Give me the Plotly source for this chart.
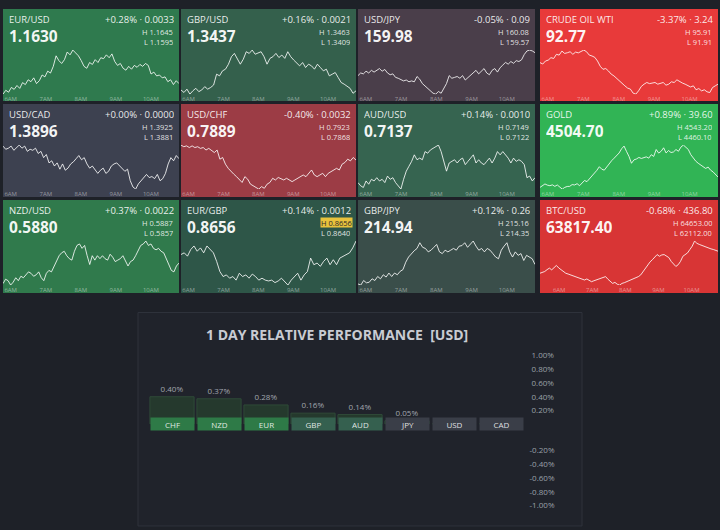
import plotly.graph_objects as go

# ---------------- DATA ----------------
pairs = ["EUR/USD", "GBP/USD", "USD/JPY", "CRUDE OIL WTI",
         "USD/CAD", "USD/CHF", "AUD/USD", "GOLD",
         "NZD/USD", "EUR/GBP", "GBP/JPY", "BTC/USD"]
last_px = ["1.1630", "1.3437", "159.98", "92.77",
           "1.3896", "0.7889", "0.7137", "4504.70",
           "0.5880", "0.8656", "214.94", "63817.40"]
pct_chg = ["+0.28%", "+0.16%", "-0.05%", "-3.37%",
           "+0.00%", "-0.40%", "+0.14%", "+0.89%",
           "+0.37%", "+0.14%", "+0.12%", "-0.68%"]
abs_chg = ["0.0033", "0.0021", "0.09", "3.24",
           "0.0000", "0.0032", "0.0010", "39.60",
           "0.0022", "0.0012", "0.26", "436.80"]
highs = ["1.1645", "1.3463", "160.08", "95.91",
         "1.3925", "0.7923", "0.7149", "4543.20",
         "0.5887", "0.8656", "215.16", "64653.00"]
lows = ["1.1595", "1.3409", "159.57", "91.91",
        "1.3881", "0.7868", "0.7122", "4460.10",
        "0.5857", "0.8640", "214.35", "62112.00"]
high_flag = [False, False, False, False, False, False,
             False, False, False, True, False, False]

eurusd = [1.1597, 1.1601, 1.1599, 1.1604, 1.1602, 1.1606, 1.1603, 1.1609, 1.1607, 1.1612, 1.1610, 1.1614,
          1.1608, 1.1611, 1.1617, 1.1615, 1.1621, 1.1619, 1.1626, 1.1637, 1.1632, 1.1629, 1.1633, 1.1641,
          1.1638, 1.1643, 1.1640, 1.1637, 1.1632, 1.1626, 1.1624, 1.1630, 1.1628, 1.1633, 1.1630, 1.1635,
          1.1634, 1.1638, 1.1635, 1.1639, 1.1631, 1.1627, 1.1629, 1.1624, 1.1622, 1.1626, 1.1623, 1.1627,
          1.1625, 1.1628, 1.1626, 1.1629, 1.1627, 1.1618, 1.1620, 1.1616, 1.1617, 1.1614, 1.1615, 1.1610,
          1.1612, 1.1607, 1.1611, 1.1608]
gbpusd = [1.3415, 1.3412, 1.3416, 1.3410, 1.3414, 1.3417, 1.3413, 1.3415, 1.3419, 1.3416, 1.3418, 1.3421,
          1.3434, 1.3432, 1.3438, 1.3440, 1.3446, 1.3455, 1.3459, 1.3453, 1.3446, 1.3452, 1.3461, 1.3459,
          1.3463, 1.3458, 1.3460, 1.3461, 1.3455, 1.3446, 1.3453, 1.3455, 1.3459, 1.3454, 1.3457, 1.3453,
          1.3461, 1.3455, 1.3451, 1.3447, 1.3444, 1.3448, 1.3442, 1.3446, 1.3444, 1.3440, 1.3446, 1.3442,
          1.3438, 1.3440, 1.3432, 1.3434, 1.3436, 1.3430, 1.3424, 1.3422, 1.3419, 1.3417, 1.3411, 1.3414]
usdjpy = [159.78, 159.81, 159.80, 159.83, 159.81, 159.84, 159.82, 159.84, 159.86, 159.83, 159.85, 159.81,
          159.79, 159.80, 159.76, 159.75, 159.73, 159.72, 159.73, 159.71, 159.72, 159.71, 159.77, 159.74,
          159.69, 159.66, 159.63, 159.61, 159.58, 159.57, 159.60, 159.58, 159.63, 159.69, 159.78, 159.75,
          159.76, 159.77, 159.75, 159.78, 159.73, 159.76, 159.79, 159.82, 159.84, 159.80, 159.83, 159.86,
          159.81, 159.79, 159.84, 159.86, 159.82, 159.87, 159.90, 159.93, 159.91, 159.94, 159.92, 159.95,
          159.94, 159.96, 160.02, 160.06, 160.07, 160.06, 160.04]
crude = [94.73, 94.60, 94.87, 94.95, 95.17, 95.10, 95.47, 95.40, 95.76, 95.55, 95.61, 95.70, 95.47, 95.67,
         95.60, 95.76, 95.85, 95.70, 95.40, 95.32, 95.20, 94.87, 94.40, 94.13, 94.20, 93.98, 93.70, 93.54,
         93.30, 93.10, 92.90, 92.65, 92.45, 92.36, 92.00, 91.91, 92.21, 92.60, 92.80, 92.95, 92.85, 92.89,
         92.95, 92.80, 92.89, 92.95, 92.71, 92.80, 93.01, 92.95, 93.19, 93.01, 92.90, 92.80, 92.71, 92.55,
         92.65, 92.30, 92.41, 92.20, 92.30, 92.12, 92.05, 92.50, 92.65, 92.80]
usdcad = [1.3922, 1.3919, 1.3920, 1.3922, 1.3918, 1.3921, 1.3923, 1.3920, 1.3922, 1.3917, 1.3919, 1.3918,
          1.3920, 1.3915, 1.3917, 1.3911, 1.3914, 1.3906, 1.3908, 1.3903, 1.3906, 1.3900, 1.3905, 1.3899,
          1.3901, 1.3905, 1.3907, 1.3910, 1.3913, 1.3909, 1.3911, 1.3905, 1.3901, 1.3903, 1.3899, 1.3896,
          1.3899, 1.3901, 1.3896, 1.3898, 1.3903, 1.3905, 1.3906, 1.3903, 1.3900, 1.3898, 1.3900, 1.3889,
          1.3883, 1.3881, 1.3886, 1.3889, 1.3891, 1.3895, 1.3892, 1.3893, 1.3891, 1.3895, 1.3889, 1.3891,
          1.3896, 1.3905, 1.3911, 1.3908, 1.3913, 1.3910]
usdchf = [0.7921, 0.7919, 0.7920, 0.7918, 0.7920, 0.7918, 0.7919, 0.7917, 0.7918, 0.7915, 0.7917, 0.7915,
          0.7912, 0.7915, 0.7904, 0.7906, 0.7898, 0.7893, 0.7889, 0.7886, 0.7883, 0.7879, 0.7876, 0.7883,
          0.7880, 0.7874, 0.7872, 0.7870, 0.7868, 0.7871, 0.7869, 0.7874, 0.7876, 0.7881, 0.7879, 0.7882,
          0.7880, 0.7879, 0.7881, 0.7879, 0.7877, 0.7879, 0.7881, 0.7883, 0.7885, 0.7883, 0.7887, 0.7891,
          0.7885, 0.7883, 0.7885, 0.7887, 0.7883, 0.7887, 0.7889, 0.7891, 0.7893, 0.7891, 0.7898, 0.7900,
          0.7904, 0.7902, 0.7906, 0.7903]
audusd = [0.7126, 0.7124, 0.7123, 0.7127, 0.7125, 0.7128, 0.7127, 0.7129, 0.7127, 0.7128, 0.7126, 0.7130,
          0.7128, 0.7129, 0.7126, 0.7124, 0.7122, 0.7128, 0.7133, 0.7136, 0.7139, 0.7143, 0.7140, 0.7141,
          0.7140, 0.7145, 0.7144, 0.7146, 0.7147, 0.7148, 0.7149, 0.7145, 0.7138, 0.7133, 0.7138, 0.7139,
          0.7140, 0.7138, 0.7140, 0.7141, 0.7137, 0.7139, 0.7141, 0.7143, 0.7138, 0.7140, 0.7138, 0.7137,
          0.7139, 0.7141, 0.7138, 0.7141, 0.7145, 0.7143, 0.7145, 0.7143, 0.7141, 0.7138, 0.7141, 0.7139,
          0.7140, 0.7139, 0.7137, 0.7129, 0.7130, 0.7127, 0.7129]
gold = [4463.3, 4466.0, 4469.7, 4467.5, 4466.5, 4468.0, 4465.2, 4467.8, 4464.0, 4460.1, 4463.3, 4465.0,
        4465.2, 4468.5, 4467.8, 4470.2, 4466.5, 4472.0, 4476.1, 4474.0, 4479.3, 4484.0, 4488.9, 4495.0,
        4501.7, 4497.0, 4495.3, 4502.0, 4508.1, 4513.0, 4517.6, 4522.0, 4527.2, 4535.0, 4540.0, 4530.0,
        4520.8, 4508.1, 4514.4, 4516.0, 4518.9, 4517.0, 4518.9, 4520.0, 4517.6, 4524.0, 4520.8, 4533.6,
        4527.0, 4530.4, 4536.8, 4527.2, 4531.7, 4528.0, 4529.1, 4533.6, 4530.4, 4538.1, 4541.9, 4536.8,
        4533.6, 4524.0, 4517.6, 4512.0, 4508.1, 4504.9, 4501.7, 4498.5, 4501.0, 4495.3, 4492.1, 4488.0,
        4482.5]
nzdusd = [0.5858, 0.5861, 0.5860, 0.5857, 0.5859, 0.5862, 0.5860, 0.5863, 0.5862, 0.5864, 0.5866, 0.5865,
          0.5863, 0.5864, 0.5866, 0.5862, 0.5860, 0.5865, 0.5867, 0.5866, 0.5870, 0.5874, 0.5877, 0.5879,
          0.5880, 0.5877, 0.5875, 0.5874, 0.5880, 0.5884, 0.5885, 0.5882, 0.5884, 0.5877, 0.5871, 0.5877,
          0.5874, 0.5877, 0.5875, 0.5877, 0.5875, 0.5874, 0.5878, 0.5876, 0.5873, 0.5874, 0.5875, 0.5877,
          0.5874, 0.5870, 0.5873, 0.5874, 0.5877, 0.5880, 0.5884, 0.5885, 0.5887, 0.5884, 0.5885, 0.5882,
          0.5881, 0.5882, 0.5880, 0.5879, 0.5875, 0.5871, 0.5867, 0.5866, 0.5870, 0.5872]
eurgbp = [0.86511, 0.86517, 0.86505, 0.86529, 0.86542, 0.86523, 0.86535, 0.86517, 0.86542, 0.86529,
          0.86517, 0.86486, 0.86449, 0.86431, 0.86437, 0.86425, 0.86431, 0.86418, 0.86443, 0.86431,
          0.86437, 0.86425, 0.86440, 0.86431, 0.86418, 0.86425, 0.86418, 0.86415, 0.86418, 0.86409,
          0.86415, 0.86425, 0.86412, 0.86400, 0.86418, 0.86431, 0.86443, 0.86418, 0.86437, 0.86449,
          0.86498, 0.86474, 0.86480, 0.86468, 0.86486, 0.86498, 0.86474, 0.86492, 0.86474, 0.86498,
          0.86505, 0.86511, 0.86517, 0.86535, 0.86560]
gbpjpy = [214.38, 214.36, 214.44, 214.40, 214.41, 214.47, 214.44, 214.51, 214.47, 214.54, 214.50, 214.57,
          214.51, 214.57, 214.54, 214.60, 214.63, 214.76, 214.85, 214.91, 214.96, 215.00, 215.10, 215.02,
          215.00, 214.94, 214.97, 215.02, 215.07, 214.94, 214.91, 214.97, 214.94, 214.97, 215.00, 214.97,
          215.04, 215.05, 215.10, 215.02, 215.07, 215.13, 215.04, 214.97, 215.00, 214.94, 215.00, 214.97,
          214.91, 214.85, 214.82, 214.97, 215.04, 215.10, 214.94, 214.85, 214.94, 214.88, 214.91, 214.79,
          214.88, 214.85, 214.82, 214.72]
btcusd = [62796, 62850, 62894, 63000, 63089, 62991, 63120, 63245, 63100, 62991, 62900, 62796, 62750, 62698,
          62640, 62601, 62550, 62503, 62450, 62405, 62464, 62380, 62307, 62360, 62405, 62450, 62503, 62550,
          62601, 62450, 62307, 62209, 62268, 62160, 62112, 62209, 62250, 62307, 62360, 62405, 62450, 62503,
          62600, 62698, 62900, 63089, 63285, 63450, 63578, 63700, 63871, 63773, 63850, 63871, 63773, 63700,
          63480, 63350, 63187, 63285, 63480, 63773, 63871, 63969, 64164, 64360, 64653, 64520, 64457, 64400,
          64360, 64301, 64262, 64200, 64164, 64106, 64067]
series = [eurusd, gbpusd, usdjpy, crude, usdcad, usdchf, audusd, gold, nzdusd, eurgbp, gbpjpy, btcusd]

# session (hours of day) covered by each sparkline
session_start = [5.78] * 11 + [5.42]
session_end = [10.80] * 12
hour_ticks = [6, 7, 8, 9, 10]
hour_labels = ["6AM", "7AM", "8AM", "9AM", "10AM"]

currencies = ["CHF", "NZD", "EUR", "GBP", "AUD", "JPY", "USD", "CAD"]
rel_perf = [0.40, 0.37, 0.28, 0.16, 0.14, 0.05, 0.00, 0.00]
rel_labels = ["0.40%", "0.37%", "0.28%", "0.16%", "0.14%", "0.05%", "", ""]
pos_ticks = [0.2, 0.4, 0.6, 0.8, 1.0]
pos_tick_labels = ["0.20%", "0.40%", "0.60%", "0.80%", "1.00%"]
neg_ticks = [-0.2, -0.4, -0.6, -0.8, -1.0]
neg_tick_labels = ["-0.20%", "-0.40%", "-0.60%", "-0.80%", "-1.00%"]

# ---------------- STYLE ----------------
tile_colors = ["#2f7a4e", "#34604c", "#4a3e4a", "#e83a3a",
               "#3d4150", "#9c3c45", "#366450", "#31b455",
               "#307a4c", "#2e5648", "#3a4e4a", "#d83535"]
BG = "#1e2128"
FONT = "Open Sans"
W, H = 720, 530


def px(x):
    return x / W


def py(y):
    return 1 - y / H


col_x = [(3, 179), (181, 356), (358, 535), (540, 718)]
row_y = [(3, 97), (100, 195), (198, 293)]

fig = go.Figure()
shapes = []
annotations = []
layout_axes = {}

for i, name in enumerate(pairs):
    r, c = divmod(i, 4)
    x0, x1 = col_x[c]
    y0, y1 = row_y[r]
    shapes.append(dict(type="rect", xref="paper", yref="paper", layer="below",
                       x0=px(x0), x1=px(x1), y0=py(y1), y1=py(y0),
                       fillcolor=tile_colors[i], line=dict(width=0)))
    k = i + 1
    xa = "x" if k == 1 else f"x{k}"
    ya = "y" if k == 1 else f"y{k}"
    vals = series[i]
    n = len(vals)
    t0, t1 = session_start[i], session_end[i]
    times = [t0 + (t1 - t0) * j / (n - 1) for j in range(n)]
    fig.add_trace(go.Scatter(x=times, y=vals, mode="lines", xaxis=xa, yaxis=ya,
                             line=dict(color="rgba(255,255,255,0.82)", width=1),
                             hoverinfo="skip", showlegend=False))
    lo, hi = min(vals), max(vals)
    layout_axes["xaxis" if k == 1 else f"xaxis{k}"] = dict(
        domain=[px(x0), px(x1)], anchor=ya, range=[t0, t1],
        tickvals=hour_ticks, ticktext=hour_labels, ticks="", ticklen=0,
        showgrid=False, zeroline=False, showline=False, fixedrange=True,
        tickfont=dict(size=6, color="rgba(255,255,255,0.45)", family=FONT))
    layout_axes["yaxis" if k == 1 else f"yaxis{k}"] = dict(
        domain=[py(y0 + 87), py(y0 + 42)], anchor=xa, range=[lo, hi],
        visible=False, fixedrange=True)

    tx = dict(xref="paper", yref="paper", showarrow=False, yanchor="middle")
    annotations.append(dict(tx, x=px(x0 + 4), y=py(y0 + 11), xanchor="left", text=name, height=11,
                            font=dict(size=9.5, color="rgba(255,255,255,0.9)", family=FONT)))
    annotations.append(dict(tx, x=px(x0 + 4), y=py(y0 + 27), xanchor="left", text=f"<b>{last_px[i]}</b>",
                            height=15,
                            font=dict(size=15.5, color="rgba(255,255,255,0.95)", family=FONT)))
    annotations.append(dict(tx, x=px(x1 - 3), y=py(y0 + 11), xanchor="right", height=11,
                            text=f"{pct_chg[i]} · {abs_chg[i]}",
                            font=dict(size=9.5, color="rgba(255,255,255,0.9)", family=FONT)))
    if high_flag[i]:
        annotations.append(dict(tx, x=px(x1 - 3), y=py(y0 + 23), xanchor="right", text=f"H {highs[i]}",
                                bgcolor="#e8c23c", borderpad=0, height=9,
                                font=dict(size=7.5, color="#2a2a2a", family=FONT)))
    else:
        annotations.append(dict(tx, x=px(x1 - 4), y=py(y0 + 23), xanchor="right", text=f"H {highs[i]}",
                                height=9,
                                font=dict(size=7.5, color="rgba(255,255,255,0.85)", family=FONT)))
    annotations.append(dict(tx, x=px(x1 - 4), y=py(y0 + 33), xanchor="right", text=f"L {lows[i]}",
                            height=9,
                            font=dict(size=7.5, color="rgba(255,255,255,0.85)", family=FONT)))

# ---------------- bottom panel ----------------
shapes.append(dict(type="rect", xref="paper", yref="paper", layer="below",
                   x0=px(138), x1=px(582), y0=py(531), y1=py(313),
                   fillcolor="#20232b", line=dict(color="#2e323b", width=1)))
annotations.append(dict(xref="paper", yref="paper", x=px(337), y=py(335), showarrow=False,
                        text="<b>1 DAY RELATIVE PERFORMANCE &nbsp;[USD]</b>",
                        font=dict(size=14, color="#c9ccd3", family=FONT)))

strong, mid, flat = "#2e7a47", "#35604f", "#3a3e48"
box_colors = [strong if v >= 0.25 else (mid if v > 0.1 else flat) for v in rel_perf]

fig.add_trace(go.Bar(x=currencies, y=rel_perf, xaxis="x13", yaxis="y13", width=0.94,
                     marker=dict(color="#25392d", line=dict(color="#2f4a38", width=1)),
                     text=rel_labels, textposition="outside", cliponaxis=False,
                     textfont=dict(size=8, color="#a0a6ae", family=FONT),
                     hoverinfo="skip", showlegend=False))
fig.add_trace(go.Scatter(x=[currencies[0]], y=[-0.5], xaxis="x13", yaxis="y14", mode="markers",
                         marker=dict(opacity=0), hoverinfo="skip", showlegend=False))

axis_font = dict(size=8, color="#9aa0a8", family=FONT)
layout_axes["xaxis13"] = dict(domain=[px(148.5), px(524.5)], anchor="y13", visible=False,
                              categoryorder="array", categoryarray=currencies, fixedrange=True)
layout_axes["yaxis13"] = dict(domain=[py(427), py(357)], anchor="x13", side="right", range=[0, 1.0],
                              tickvals=pos_ticks, ticktext=pos_tick_labels, ticks="",
                              ticklabelstandoff=6, showgrid=False,
                              zeroline=False, showline=False, tickfont=axis_font, fixedrange=True)
layout_axes["yaxis14"] = dict(domain=[py(510), py(440)], anchor="x13", side="right", range=[-1.0, 0],
                              tickvals=neg_ticks, ticktext=neg_tick_labels, ticks="",
                              ticklabelstandoff=4, showgrid=False,
                              zeroline=False, showline=False, tickfont=axis_font, fixedrange=True)

for cur, col in zip(currencies, box_colors):
    annotations.append(dict(xref="x13", yref="paper", x=cur, y=py(433.5), showarrow=False,
                            text=cur, width=43, height=12, bgcolor=col, borderpad=0,
                            font=dict(size=8, color="rgba(255,255,255,0.85)", family=FONT)))

fig.update_layout(width=W, height=H, margin=dict(l=0, r=0, t=0, b=0),
                  paper_bgcolor=BG, plot_bgcolor="rgba(0,0,0,0)",
                  shapes=shapes, annotations=annotations, showlegend=False,
                  font=dict(family=FONT), bargap=0.06, **layout_axes)

fig.write_html("out.html", config={"displayModeBar": False})
